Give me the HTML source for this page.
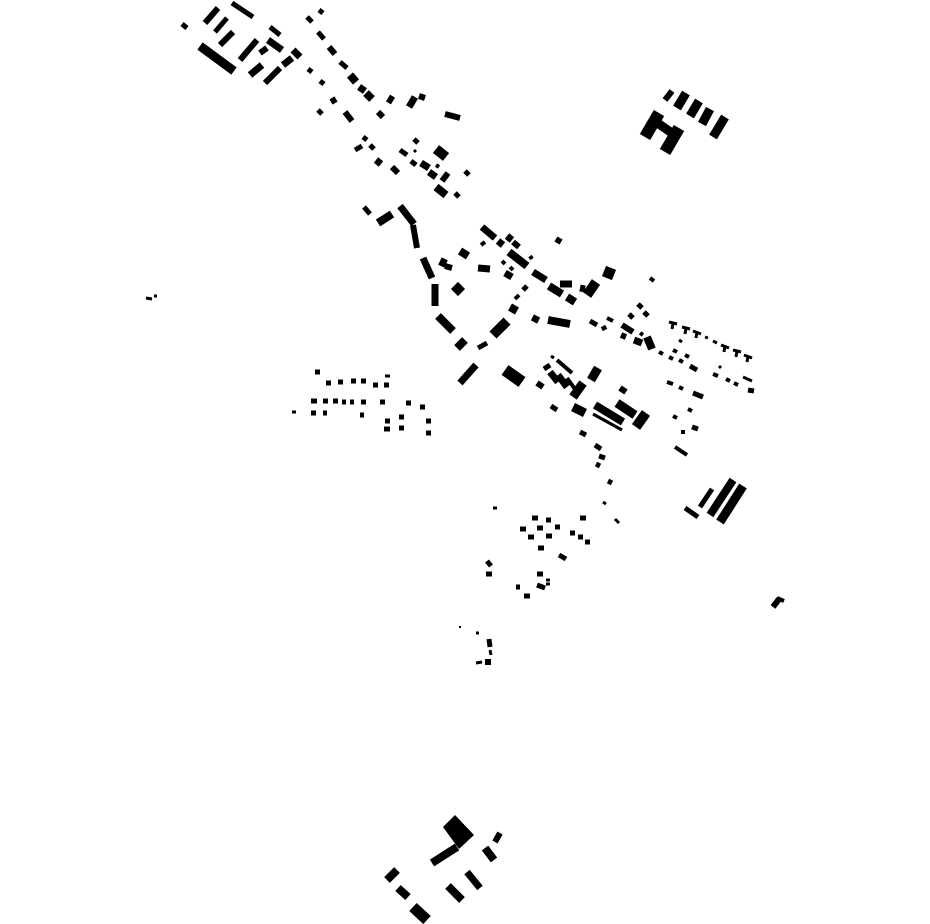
<!DOCTYPE html>
<html><head><meta charset="utf-8"><style>html,body{margin:0;padding:0;background:#fff}svg{display:block}</style></head>
<body>
<svg width="930" height="924" viewBox="0 0 930 924" xmlns="http://www.w3.org/2000/svg">
<g stroke="#000" stroke-linecap="butt" fill="none">
<!-- top-left cluster -->
<line x1="182" y1="24" x2="187" y2="28" stroke-width="5"/>
<line x1="205" y1="23" x2="218" y2="8" stroke-width="6"/>
<line x1="232" y1="3" x2="253" y2="17" stroke-width="5"/>
<line x1="215" y1="32" x2="227" y2="18" stroke-width="5"/>
<line x1="220" y1="45" x2="233" y2="32" stroke-width="6"/>
<line x1="200" y1="46" x2="234" y2="71" stroke-width="9"/>
<line x1="240" y1="60" x2="257" y2="40" stroke-width="6"/>
<line x1="260" y1="53" x2="267" y2="48" stroke-width="6"/>
<line x1="270" y1="27" x2="280" y2="35" stroke-width="5"/>
<line x1="268" y1="40" x2="282" y2="50" stroke-width="7"/>
<line x1="250" y1="75" x2="262" y2="65" stroke-width="7"/>
<line x1="265" y1="83" x2="280" y2="68" stroke-width="6"/>
<line x1="283" y1="65" x2="292" y2="58" stroke-width="7"/>
<line x1="293" y1="50" x2="300" y2="57" stroke-width="7"/>
<!-- road line top -->
<line x1="307" y1="17" x2="312" y2="22" stroke-width="5"/>
<line x1="319" y1="10" x2="323" y2="13" stroke-width="5"/>
<line x1="318" y1="32" x2="324" y2="39" stroke-width="5"/>
<line x1="329" y1="47" x2="335" y2="54" stroke-width="6"/>
<line x1="340" y1="62" x2="347" y2="68" stroke-width="5"/>
<line x1="350" y1="75" x2="356" y2="82" stroke-width="8"/>
<line x1="359" y1="87" x2="365" y2="91" stroke-width="7"/>
<line x1="366" y1="93" x2="372" y2="99" stroke-width="8"/>
<line x1="388" y1="98" x2="393" y2="101" stroke-width="8"/>
<line x1="409" y1="107" x2="415" y2="97" stroke-width="7"/>
<line x1="419" y1="96" x2="425" y2="98" stroke-width="6"/>
<line x1="445" y1="114" x2="460" y2="118" stroke-width="6"/>
<line x1="308" y1="69" x2="312" y2="72" stroke-width="5"/>
<line x1="320" y1="81" x2="324" y2="84" stroke-width="5"/>
<line x1="331" y1="102" x2="336" y2="99" stroke-width="6"/>
<line x1="318" y1="110" x2="322" y2="114" stroke-width="5"/>
<line x1="345" y1="112" x2="352" y2="121" stroke-width="6"/>
<line x1="378" y1="112" x2="383" y2="117" stroke-width="6"/>
<!-- cluster 2 -->
<line x1="363" y1="137" x2="367" y2="140" stroke-width="5"/>
<line x1="355" y1="150" x2="362" y2="146" stroke-width="5"/>
<line x1="370" y1="145" x2="374" y2="149" stroke-width="5"/>
<line x1="376" y1="160" x2="381" y2="164" stroke-width="7"/>
<line x1="392" y1="167" x2="398" y2="173" stroke-width="6"/>
<line x1="400" y1="150" x2="407" y2="155" stroke-width="5"/>
<line x1="414" y1="139" x2="418" y2="143" stroke-width="5"/>
<line x1="414" y1="150" x2="416" y2="152" stroke-width="3"/>
<line x1="436" y1="149" x2="446" y2="157" stroke-width="10"/>
<line x1="411" y1="161" x2="416" y2="165" stroke-width="5"/>
<line x1="421" y1="163" x2="429" y2="168" stroke-width="7"/>
<line x1="436" y1="165" x2="439" y2="167" stroke-width="4"/>
<line x1="429" y1="172" x2="436" y2="177" stroke-width="7"/>
<line x1="448" y1="173" x2="442" y2="181" stroke-width="6"/>
<line x1="465" y1="171" x2="469" y2="175" stroke-width="5"/>
<line x1="436" y1="187" x2="446" y2="195" stroke-width="8"/>
<line x1="455" y1="193" x2="459" y2="197" stroke-width="5"/>
<!-- curve road -->
<line x1="364" y1="207" x2="370" y2="214" stroke-width="5"/>
<line x1="378" y1="223" x2="392" y2="214" stroke-width="8"/>
<line x1="400" y1="206" x2="414" y2="224" stroke-width="7"/>
<line x1="413" y1="225" x2="417" y2="248" stroke-width="6"/>
<line x1="423" y1="258" x2="432" y2="278" stroke-width="7"/>
<line x1="435" y1="284" x2="435" y2="306" stroke-width="7"/>
<line x1="438" y1="316" x2="453" y2="331" stroke-width="8"/>
<line x1="457" y1="348" x2="465" y2="340" stroke-width="8"/>
<line x1="460" y1="383" x2="476" y2="365" stroke-width="7"/>
<line x1="478" y1="348" x2="487" y2="343" stroke-width="5"/>
<line x1="493" y1="335" x2="507" y2="321" stroke-width="10"/>
<!-- center -->
<line x1="482" y1="227" x2="495" y2="238" stroke-width="7"/>
<line x1="498" y1="241" x2="503" y2="245" stroke-width="7"/>
<line x1="507" y1="236" x2="512" y2="240" stroke-width="7"/>
<line x1="513" y1="242" x2="519" y2="247" stroke-width="6"/>
<line x1="509" y1="252" x2="527" y2="266" stroke-width="8"/>
<line x1="530" y1="256" x2="532" y2="259" stroke-width="4"/>
<line x1="481" y1="245" x2="485" y2="242" stroke-width="4"/>
<line x1="460" y1="251" x2="468" y2="256" stroke-width="8"/>
<line x1="440" y1="261" x2="446" y2="264" stroke-width="8"/>
<line x1="445" y1="266" x2="452" y2="268" stroke-width="6"/>
<line x1="478" y1="268" x2="490" y2="269" stroke-width="7"/>
<line x1="502" y1="261" x2="505" y2="264" stroke-width="4"/>
<line x1="510" y1="267" x2="513" y2="270" stroke-width="4"/>
<line x1="505" y1="273" x2="512" y2="277" stroke-width="7"/>
<line x1="453" y1="289" x2="463" y2="289" stroke-width="10" transform="rotate(45 458 289)"/>
<line x1="523" y1="290" x2="527" y2="286" stroke-width="5"/>
<line x1="515" y1="299" x2="519" y2="295" stroke-width="4"/>
<line x1="510" y1="307" x2="517" y2="311" stroke-width="8"/>
<line x1="533" y1="272" x2="546" y2="280" stroke-width="7"/>
<line x1="549" y1="286" x2="562" y2="294" stroke-width="8"/>
<line x1="567" y1="297" x2="575" y2="302" stroke-width="8"/>
<line x1="560" y1="284" x2="572" y2="284" stroke-width="7"/>
<line x1="580" y1="288" x2="585" y2="289" stroke-width="7"/>
<line x1="587" y1="295" x2="596" y2="282" stroke-width="10"/>
<line x1="604" y1="271" x2="614" y2="275" stroke-width="11"/>
<line x1="557" y1="243" x2="560" y2="238" stroke-width="6"/>
<line x1="650" y1="278" x2="654" y2="281" stroke-width="4"/>
<line x1="548" y1="320" x2="570" y2="324" stroke-width="8"/>
<line x1="534" y1="322" x2="537" y2="316" stroke-width="7"/>
<!-- right lower cluster -->
<line x1="638" y1="304" x2="642" y2="308" stroke-width="5"/>
<line x1="629" y1="314" x2="633" y2="318" stroke-width="5"/>
<line x1="644" y1="312" x2="648" y2="316" stroke-width="5"/>
<line x1="590" y1="321" x2="597" y2="325" stroke-width="5"/>
<line x1="607" y1="318" x2="613" y2="321" stroke-width="4"/>
<line x1="603" y1="326" x2="605" y2="330" stroke-width="5"/>
<line x1="622" y1="325" x2="633" y2="332" stroke-width="6"/>
<line x1="621" y1="335" x2="626" y2="337" stroke-width="6"/>
<line x1="634" y1="340" x2="642" y2="343" stroke-width="7"/>
<line x1="640" y1="333" x2="643" y2="335" stroke-width="4"/>
<line x1="647" y1="337" x2="652" y2="349" stroke-width="8"/>
<line x1="659" y1="352" x2="663" y2="354" stroke-width="4"/>
<line x1="673" y1="350" x2="677" y2="352" stroke-width="4"/>
<line x1="669" y1="357" x2="673" y2="359" stroke-width="4"/>
<line x1="685" y1="355" x2="689" y2="357" stroke-width="4"/>
<line x1="679" y1="360" x2="683" y2="362" stroke-width="4"/>
<line x1="690" y1="366" x2="697" y2="370" stroke-width="5"/>
<line x1="679" y1="340" x2="682" y2="342" stroke-width="3"/>
<!-- tees -->
<g stroke-width="3">
<line x1="669" y1="322" x2="677" y2="324"/><line x1="673" y1="323" x2="672" y2="329"/>
<line x1="682" y1="327" x2="690" y2="329"/><line x1="686" y1="328" x2="685" y2="334"/>
<line x1="693" y1="331" x2="701" y2="334"/><line x1="697" y1="332" x2="696" y2="338"/>
<line x1="705" y1="337" x2="708" y2="338"/>
<line x1="713" y1="341" x2="717" y2="343"/>
<line x1="721" y1="345" x2="729" y2="348"/><line x1="725" y1="346" x2="724" y2="352"/>
<line x1="733" y1="350" x2="741" y2="352"/><line x1="737" y1="351" x2="736" y2="357"/>
<line x1="744" y1="355" x2="752" y2="358"/><line x1="748" y1="356" x2="747" y2="362"/>
</g>
<line x1="713" y1="374" x2="718" y2="376" stroke-width="4"/>
<line x1="719" y1="366" x2="721" y2="368" stroke-width="3"/>
<line x1="726" y1="379" x2="730" y2="381" stroke-width="4"/>
<line x1="734" y1="383" x2="738" y2="385" stroke-width="4"/>
<line x1="743" y1="377" x2="752" y2="381" stroke-width="3"/>
<line x1="748" y1="390" x2="754" y2="391" stroke-width="5"/>
<line x1="667" y1="382" x2="673" y2="384" stroke-width="4"/>
<line x1="679" y1="387" x2="683" y2="389" stroke-width="4"/>
<line x1="693" y1="393" x2="703" y2="397" stroke-width="5"/>
<line x1="688" y1="409" x2="692" y2="411" stroke-width="4"/>
<line x1="673" y1="416" x2="677" y2="418" stroke-width="4"/>
<line x1="681" y1="432" x2="685" y2="432" stroke-width="4"/>
<line x1="692" y1="427" x2="698" y2="429" stroke-width="5"/>
<line x1="675" y1="447" x2="687" y2="455" stroke-width="4"/>
<!-- middle cluster -->
<line x1="505" y1="370" x2="522" y2="382" stroke-width="12"/>
<line x1="537" y1="383" x2="543" y2="387" stroke-width="6"/>
<line x1="544" y1="369" x2="550" y2="365" stroke-width="5"/>
<line x1="551" y1="356" x2="554" y2="358" stroke-width="3"/>
<line x1="557" y1="360" x2="572" y2="373" stroke-width="4"/>
<line x1="550" y1="372" x2="558" y2="382" stroke-width="7"/>
<line x1="558" y1="375" x2="567" y2="387" stroke-width="7"/>
<line x1="567" y1="378" x2="577" y2="392" stroke-width="4"/>
<line x1="573" y1="397" x2="583" y2="383" stroke-width="9"/>
<line x1="591" y1="380" x2="598" y2="368" stroke-width="9"/>
<line x1="620" y1="388" x2="626" y2="392" stroke-width="6"/>
<line x1="551" y1="406" x2="557" y2="410" stroke-width="5"/>
<line x1="573" y1="407" x2="585" y2="413" stroke-width="9"/>
<line x1="595" y1="405" x2="623" y2="422" stroke-width="8"/>
<line x1="593" y1="414" x2="622" y2="430" stroke-width="3"/>
<line x1="617" y1="403" x2="635" y2="415" stroke-width="9"/>
<line x1="636" y1="427" x2="646" y2="413" stroke-width="10"/>
<line x1="580" y1="432" x2="586" y2="435" stroke-width="5"/>
<!-- left dots -->
<g stroke-width="5">
<line x1="315" y1="372" x2="320" y2="372"/>
<line x1="326" y1="383" x2="331" y2="383"/>
<line x1="338" y1="382" x2="343" y2="382"/>
<line x1="351" y1="381" x2="356" y2="381"/>
<line x1="361" y1="381" x2="366" y2="381"/>
<line x1="373" y1="385" x2="378" y2="385"/>
<line x1="384" y1="385" x2="389" y2="385"/>
<line x1="385" y1="376" x2="390" y2="376" stroke-width="3"/>
<line x1="311" y1="401" x2="317" y2="401"/>
<line x1="323" y1="401" x2="328" y2="401"/>
<line x1="333" y1="401" x2="338" y2="401"/>
<line x1="342" y1="402" x2="346" y2="402"/>
<line x1="350" y1="402" x2="354" y2="402"/>
<line x1="361" y1="402" x2="366" y2="402"/>
<line x1="380" y1="402" x2="385" y2="402"/>
<line x1="406" y1="403" x2="411" y2="403"/>
<line x1="420" y1="407" x2="425" y2="407"/>
<line x1="292" y1="412" x2="296" y2="412" stroke-width="3"/>
<line x1="311" y1="413" x2="316" y2="413"/>
<line x1="323" y1="413" x2="327" y2="413"/>
<line x1="360" y1="415" x2="364" y2="415"/>
<line x1="385" y1="421" x2="390" y2="421"/>
<line x1="399" y1="417" x2="404" y2="417"/>
<line x1="426" y1="421" x2="431" y2="421"/>
<line x1="384" y1="429" x2="390" y2="429"/>
<line x1="399" y1="428" x2="404" y2="428"/>
<line x1="426" y1="433" x2="431" y2="433"/>
</g>
<line x1="146" y1="298" x2="152" y2="299" stroke-width="3"/>
<line x1="154" y1="296" x2="157" y2="296" stroke-width="3"/>
<!-- lower right chain -->
<line x1="595" y1="445" x2="601" y2="449" stroke-width="5"/>
<line x1="599" y1="456" x2="605" y2="458" stroke-width="5"/>
<line x1="596" y1="464" x2="600" y2="466" stroke-width="5"/>
<line x1="608" y1="481" x2="612" y2="483" stroke-width="5"/>
<line x1="603" y1="502" x2="606" y2="504" stroke-width="3"/>
<line x1="615" y1="519" x2="619" y2="523" stroke-width="3"/>
<line x1="493" y1="508" x2="497" y2="508" stroke-width="3"/>
<line x1="685" y1="508" x2="698" y2="517" stroke-width="5"/>
<line x1="700" y1="507" x2="712" y2="489" stroke-width="5"/>
<line x1="710" y1="515" x2="733" y2="480" stroke-width="8"/>
<line x1="720" y1="522" x2="743" y2="486" stroke-width="9"/>
<g stroke-width="5">
<line x1="532" y1="518" x2="538" y2="518"/>
<line x1="546" y1="520" x2="551" y2="520"/>
<line x1="520" y1="529" x2="526" y2="529"/>
<line x1="537" y1="528" x2="543" y2="528"/>
<line x1="555" y1="527" x2="560" y2="527"/>
<line x1="580" y1="518" x2="586" y2="518"/>
<line x1="528" y1="537" x2="534" y2="537"/>
<line x1="546" y1="536" x2="552" y2="536"/>
<line x1="570" y1="533" x2="575" y2="533"/>
<line x1="578" y1="537" x2="583" y2="537"/>
<line x1="585" y1="542" x2="590" y2="542"/>
<line x1="538" y1="548" x2="544" y2="548"/>
<line x1="559" y1="555" x2="566" y2="559"/>
<line x1="487" y1="561" x2="491" y2="566"/>
<line x1="486" y1="574" x2="492" y2="574"/>
<line x1="537" y1="574" x2="543" y2="574"/>
<line x1="537" y1="585" x2="545" y2="588"/>
<line x1="546" y1="580" x2="550" y2="580" stroke-width="3"/>
<line x1="546" y1="584" x2="550" y2="584" stroke-width="3"/>
<line x1="516" y1="587" x2="520" y2="587"/>
<line x1="524" y1="596" x2="530" y2="596"/>
</g>
<line x1="773" y1="607" x2="779" y2="599" stroke-width="6"/>
<line x1="777" y1="598" x2="784" y2="601" stroke-width="4"/>
<line x1="476" y1="633" x2="479" y2="633" stroke-width="3"/>
<line x1="459" y1="627" x2="461" y2="627" stroke-width="2"/>
<line x1="489" y1="639" x2="490" y2="647" stroke-width="5"/>
<line x1="490" y1="650" x2="491" y2="655" stroke-width="3"/>
<line x1="476" y1="663" x2="482" y2="662" stroke-width="3"/>
<line x1="485" y1="662" x2="491" y2="662" stroke-width="6"/>
<!-- top right block -->
<line x1="665" y1="100" x2="672" y2="91" stroke-width="6"/>
<line x1="677" y1="108" x2="686" y2="93" stroke-width="9"/>
<line x1="690" y1="116" x2="699" y2="101" stroke-width="9"/>
<line x1="702" y1="124" x2="710" y2="109" stroke-width="9"/>
<line x1="713" y1="137" x2="725" y2="117" stroke-width="9"/>
<line x1="645" y1="137" x2="659" y2="113" stroke-width="12"/>
<line x1="665" y1="152" x2="679" y2="128" stroke-width="12"/>
<line x1="656" y1="122" x2="672" y2="133" stroke-width="9"/>
<!-- bottom cluster -->
<polygon points="443,827 455,815 474,835 459,849" fill="#000" stroke="none"/>
<line x1="432" y1="863" x2="457" y2="847" stroke-width="8"/>
<line x1="485" y1="848" x2="494" y2="860" stroke-width="8"/>
<line x1="495" y1="842" x2="500" y2="833" stroke-width="6"/>
<line x1="467" y1="872" x2="480" y2="888" stroke-width="7"/>
<line x1="448" y1="886" x2="462" y2="900" stroke-width="8"/>
<line x1="387" y1="880" x2="397" y2="870" stroke-width="8"/>
<line x1="398" y1="888" x2="408" y2="897" stroke-width="8"/>
<line x1="413" y1="907" x2="427" y2="920" stroke-width="11"/>
</g>
</svg>
</body></html>
